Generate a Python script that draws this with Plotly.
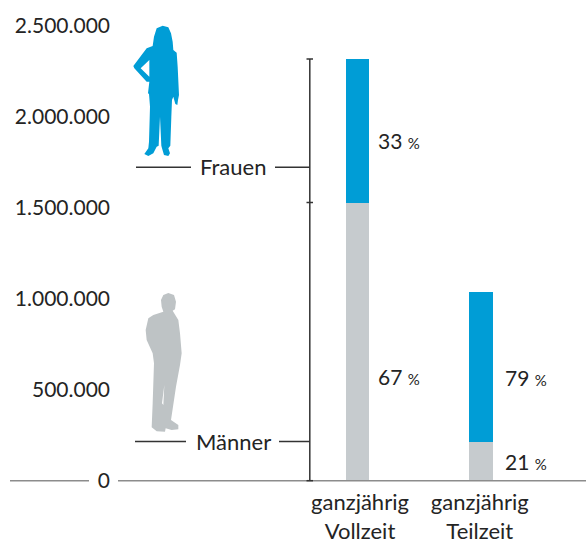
import plotly.graph_objects as go

categories = ["ganzjährig<br>Vollzeit", "ganzjährig<br>Teilzeit"]
bar_pos = [0, 1]
tick_pos = [0.02, 0.99]
maenner = [1525000, 217000]
frauen = [795000, 819000]
tick_values = [0, 500000, 1000000, 1500000, 2000000, 2500000]
share_labels = ["33", "67", "79", "21"]
share_pos = [0, 0, 1.03, 1.03]
share_y = [1873000, 575000, 570000, 108000]

BLUE = "#009DD6"
GREY = "#C6CBCE"
INK = "#242424"
FONT = "Lato"
W, H = 586, 544
L, B = 118, 63
PW, PH = W - L, H - B


def px(x):
    return (x - L) / PW


def py(y):
    return (PH - y) / PH


def silhouette(rings):
    d = ""
    for ring in rings:
        pts = [(px(a / 3), py(b / 3 + off)) for a, b, off in ring]
        d += "M" + " L".join(f"{a:.5f},{b:.5f}" for a, b in pts) + " Z "
    return d


def ring(coords, off=0):
    return [(a, b, off) for a, b in coords]


woman = ring([(488,77),(505,82),(513,100),(518,125),(520,150),(530,158),(533,200),(537,285),(534,300),(532,315),
              (526,312),(520,290),(516,300),(514,350),(511,437),(505,445),(510,460),(505,468),(492,465),(486,445),
              (484,437),(480,350),(476,437),(470,440),(460,460),(445,468),(433,462),(445,445),(447,425),(450,320),
              (447,282),(444,280),(448,245),(440,245),(403,205),(400,198),(440,145),(458,138),(462,110),(470,85)])
woman_hole = ring([(448,180),(422,205),(448,230)])
man = ring([(505,69),(522,75),(528,95),(525,118),(518,122),(535,150),(540,190),(545,250),(540,285),(528,350),
            (513,450),(535,465),(535,478),(515,480),(497,475),(495,485),(470,484),(455,472),(458,400),(462,280),
            (458,250),(440,210),(437,180),(445,145),(460,135),(490,125),(485,110),(483,90),(490,75)], 270)
man_gap = ring([(493,345),(486,400),(490,405)], 270)

fig = go.Figure()
fig.add_bar(x=bar_pos, y=maenner, marker=dict(color=GREY, line_width=0), width=0.19, name="Männer")
fig.add_bar(x=bar_pos, y=frauen, marker=dict(color=BLUE, line_width=0), width=0.19, name="Frauen")


def line(x0, y0, x1, y1, color="#333333", width=1.5):
    return dict(type="line", xref="paper", yref="paper", x0=px(x0), y0=py(y0), x1=px(x1), y1=py(y1),
                line=dict(color=color, width=width), layer="above")


shapes = [
    line(136, 167.3, 191, 167.3), line(275, 167.3, 310, 167.3),
    line(135, 441.5, 186, 441.5), line(279, 441.5, 310, 441.5),
    line(309.8, 59, 309.8, 481), line(306.5, 59, 313, 59), line(306.5, 202.5, 313, 202.5),
    line(10, 480.7, 89, 480.7, "#8C8C8C", 1.6), line(118, 480.7, 586, 480.7, "#8C8C8C", 1.6),
    line(306.5, 480.7, 313, 480.7),
    dict(type="path", xref="paper", yref="paper", path=silhouette([woman, woman_hole]),
         fillcolor=BLUE, line_width=0),
    dict(type="path", xref="paper", yref="paper", path=silhouette([man, man_gap]),
         fillcolor="#BEC3C5", line_width=0),
]

annotations = [
    dict(text="Frauen", xref="paper", yref="paper", x=px(233), y=py(166), showarrow=False,
         xanchor="center", yanchor="middle", font=dict(family=FONT, size=22, color=INK)),
    dict(text="Männer", xref="paper", yref="paper", x=px(233), y=py(441), showarrow=False,
         xanchor="center", yanchor="middle", font=dict(family=FONT, size=22, color=INK)),
]
for lab, pos, y in zip(share_labels, share_pos, share_y):
    annotations.append(dict(text=f'{lab} <span style="font-size:15px">%</span>', x=pos, y=y,
                            xref="x", yref="y", showarrow=False, xanchor="left", yanchor="middle",
                            xshift=18, font=dict(family=FONT, size=21, color=INK)))

fig.update_layout(
    width=W, height=H, autosize=False, barmode="stack", showlegend=False, bargap=0,
    separators=",.", paper_bgcolor="white", plot_bgcolor="white",
    margin=dict(l=L, r=0, t=0, b=B, pad=0),
    shapes=shapes, annotations=annotations,
    font=dict(family=FONT, size=21, color=INK),
    xaxis=dict(range=[-1.939, 1.850], tickmode="array", tickvals=tick_pos, ticktext=categories,
               automargin=False, showgrid=False, zeroline=False, showline=False,
               ticks="", tickfont=dict(family=FONT, size=22, color=INK), ticklabelstandoff=6),
    yaxis=dict(range=[0, 2642857], tickvals=tick_values, tickformat=",d", automargin=False,
               showgrid=False, zeroline=False, showline=False, ticks="",
               tickfont=dict(family=FONT, size=21, color=INK), ticklabelstandoff=7),
)
fig.write_html("out.html", config=dict(displayModeBar=False, responsive=False),
               post_script="document.body.style.margin='0';document.documentElement.style.overflow='hidden';")
